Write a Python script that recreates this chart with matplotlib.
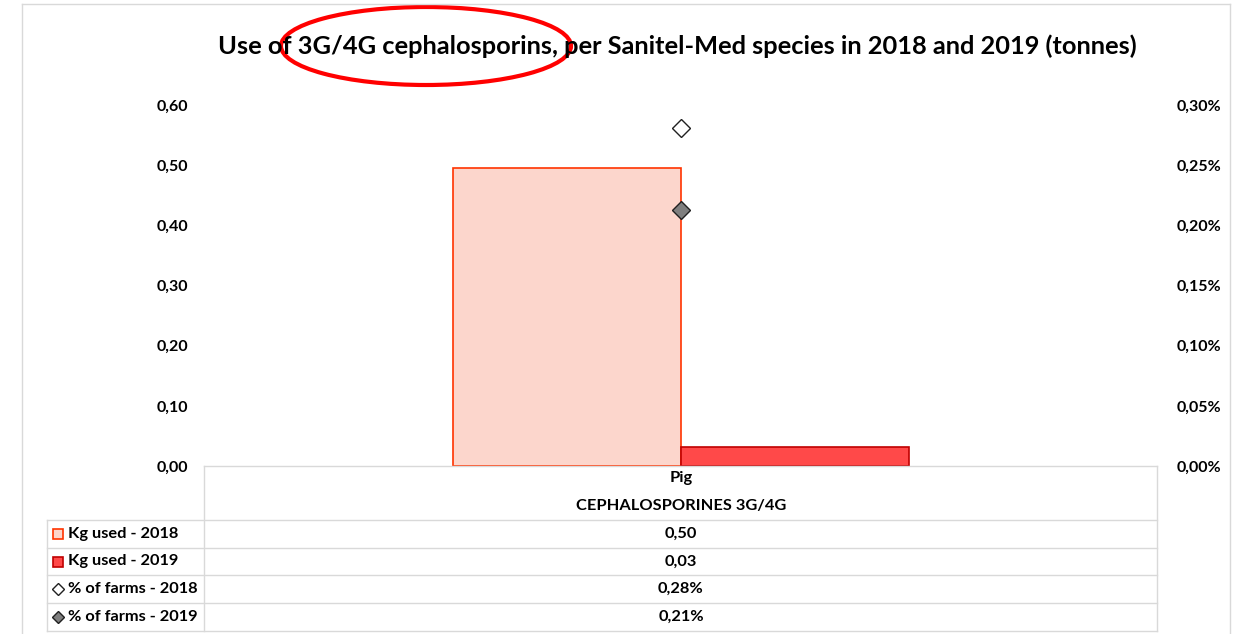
import matplotlib
matplotlib.use("Agg")
import matplotlib.pyplot as plt
from matplotlib.patches import Ellipse, Rectangle
from matplotlib.lines import Line2D
from matplotlib.ticker import FuncFormatter

plt.rcParams['font.family'] = ['Lato', 'DejaVu Sans']
plt.rcParams['font.weight'] = 'bold'

# ---- data ----
categories = ["Pig"]
group_label = "CEPHALOSPORINES 3G/4G"
kg_2018 = [0.495]
kg_2019 = [0.032]
farms_2018 = [0.00281]
farms_2019 = [0.00213]
kg_2018_txt = ["0,50"]
kg_2019_txt = ["0,03"]
farms_2018_txt = ["0,28%"]
farms_2019_txt = ["0,21%"]
series_names = ["Kg used - 2018", "Kg used - 2019", "% of farms - 2018", "% of farms - 2019"]
title = "Use of 3G/4G cephalosporins, per Sanitel-Med species in 2018 and 2019 (tonnes)"

W, H = 1245, 634
fig = plt.figure(figsize=(W / 100, H / 100), dpi=100)

def fx(x):
    return x / W

def fy(y):
    return 1 - y / H

c18_fill, c18_edge = "#FCD6CC", "#FF3300"
c19_fill, c19_edge = "#FF4949", "#C00000"
grid_c = "#D9D9D9"
TFS = 11.8

# main axes
ax = fig.add_axes([fx(205), fy(466), (1157 - 205) / W, (466 - 105) / H])
ax.set_xlim(-0.5, len(categories) - 0.5)
ax.set_ylim(0, 0.6)
bw = 0.239
xs = list(range(len(categories)))
ax.bar([x - bw / 2 for x in xs], kg_2018, width=bw, color=c18_fill, edgecolor=c18_edge, linewidth=1.2, zorder=2)
ax.bar([x + bw / 2 for x in xs], kg_2019, width=bw, color=c19_fill, edgecolor=c19_edge, linewidth=1.2, zorder=2)
for s in ax.spines.values():
    s.set_visible(False)
ax.set_xticks([])
ax.set_yticks([0, 0.1, 0.2, 0.3, 0.4, 0.5, 0.6])
ax.yaxis.set_major_formatter(FuncFormatter(lambda v, p: f"{v:.2f}".replace(".", ",")))
ax.tick_params(axis='y', length=0, pad=12, labelsize=11.5)
ax.patch.set_alpha(0)

ax2 = ax.twinx()
ax2.set_ylim(0, 0.003)
ax2.set_yticks([0, 0.0005, 0.001, 0.0015, 0.002, 0.0025, 0.003])
ax2.yaxis.set_major_formatter(FuncFormatter(lambda v, p: f"{v*100:.2f}%".replace(".", ",")))
ax2.tick_params(axis='y', length=0, pad=14, labelsize=11.5)
for s in ax2.spines.values():
    s.set_visible(False)
ax2.plot(xs, farms_2018, linestyle='none', marker='D', markersize=9, markerfacecolor='white',
         markeredgecolor='#202020', markeredgewidth=1.0, zorder=3)
ax2.plot(xs, farms_2019, linestyle='none', marker='D', markersize=9, markerfacecolor='#7F7F7F',
         markeredgecolor='#202020', markeredgewidth=1.0, zorder=3)
for lab in ax.get_yticklabels() + ax2.get_yticklabels():
    lab.set_fontweight('bold')

# ---- outer border ----
def hline(y, x0, x1, c=grid_c, lw=1.0):
    fig.add_artist(Line2D([fx(x0), fx(x1)], [fy(y), fy(y)], color=c, lw=lw))

def vline(x, y0, y1, c=grid_c, lw=1.0):
    fig.add_artist(Line2D([fx(x), fx(x)], [fy(y0), fy(y1)], color=c, lw=lw))

hline(4, 22, 1230)
vline(22, 4, 634)
vline(1230, 4, 634)

# ---- data table ----
hline(466, 204, 1157)
vline(204, 466, 631)
vline(1157, 466, 631)
vline(47, 520, 631)
rows_y = [520, 548, 575, 603, 631]
for y in rows_y:
    hline(y, 47, 1157)

cx = 681
fig.text(fx(cx), fy(478), categories[0], ha='center', va='center', fontsize=TFS, fontweight='bold')
fig.text(fx(cx), fy(506), group_label, ha='center', va='center', fontsize=TFS, fontweight='bold')
values_txt = [kg_2018_txt[0], kg_2019_txt[0], farms_2018_txt[0], farms_2019_txt[0]]
for i in range(4):
    yc = (rows_y[i] + rows_y[i + 1]) / 2
    fig.text(fx(cx), fy(yc), values_txt[i], ha='center', va='center', fontsize=TFS, fontweight='bold')
    fig.text(fx(68), fy(yc), series_names[i], ha='left', va='center', fontsize=TFS, fontweight='bold')

# legend keys
def sq(yc, fc, ec):
    fig.add_artist(Rectangle((fx(53), fy(yc + 5)), 10 / W, 10 / H, facecolor=fc, edgecolor=ec, lw=1.2))

sq((rows_y[0] + rows_y[1]) / 2, c18_fill, c18_edge)
sq((rows_y[1] + rows_y[2]) / 2, c19_fill, c19_edge)
for i, fc in [(2, 'white'), (3, '#7F7F7F')]:
    yc = (rows_y[i] + rows_y[i + 1]) / 2
    fig.add_artist(Line2D([fx(58)], [fy(yc)], marker='D', markersize=6, markerfacecolor=fc,
                          markeredgecolor='#202020', markeredgewidth=1.0, linestyle='none'))

# title
fig.text(fx(677), fy(46), title, ha='center', va='center', fontsize=18.3, fontweight='bold')

# red ellipse annotation
fig.add_artist(Ellipse((fx(426), fy(46)), 290 / W, 78 / H, transform=fig.transFigure,
                       fill=False, edgecolor='#FF0000', lw=3.0))

fig.savefig("out.png", dpi=100)
